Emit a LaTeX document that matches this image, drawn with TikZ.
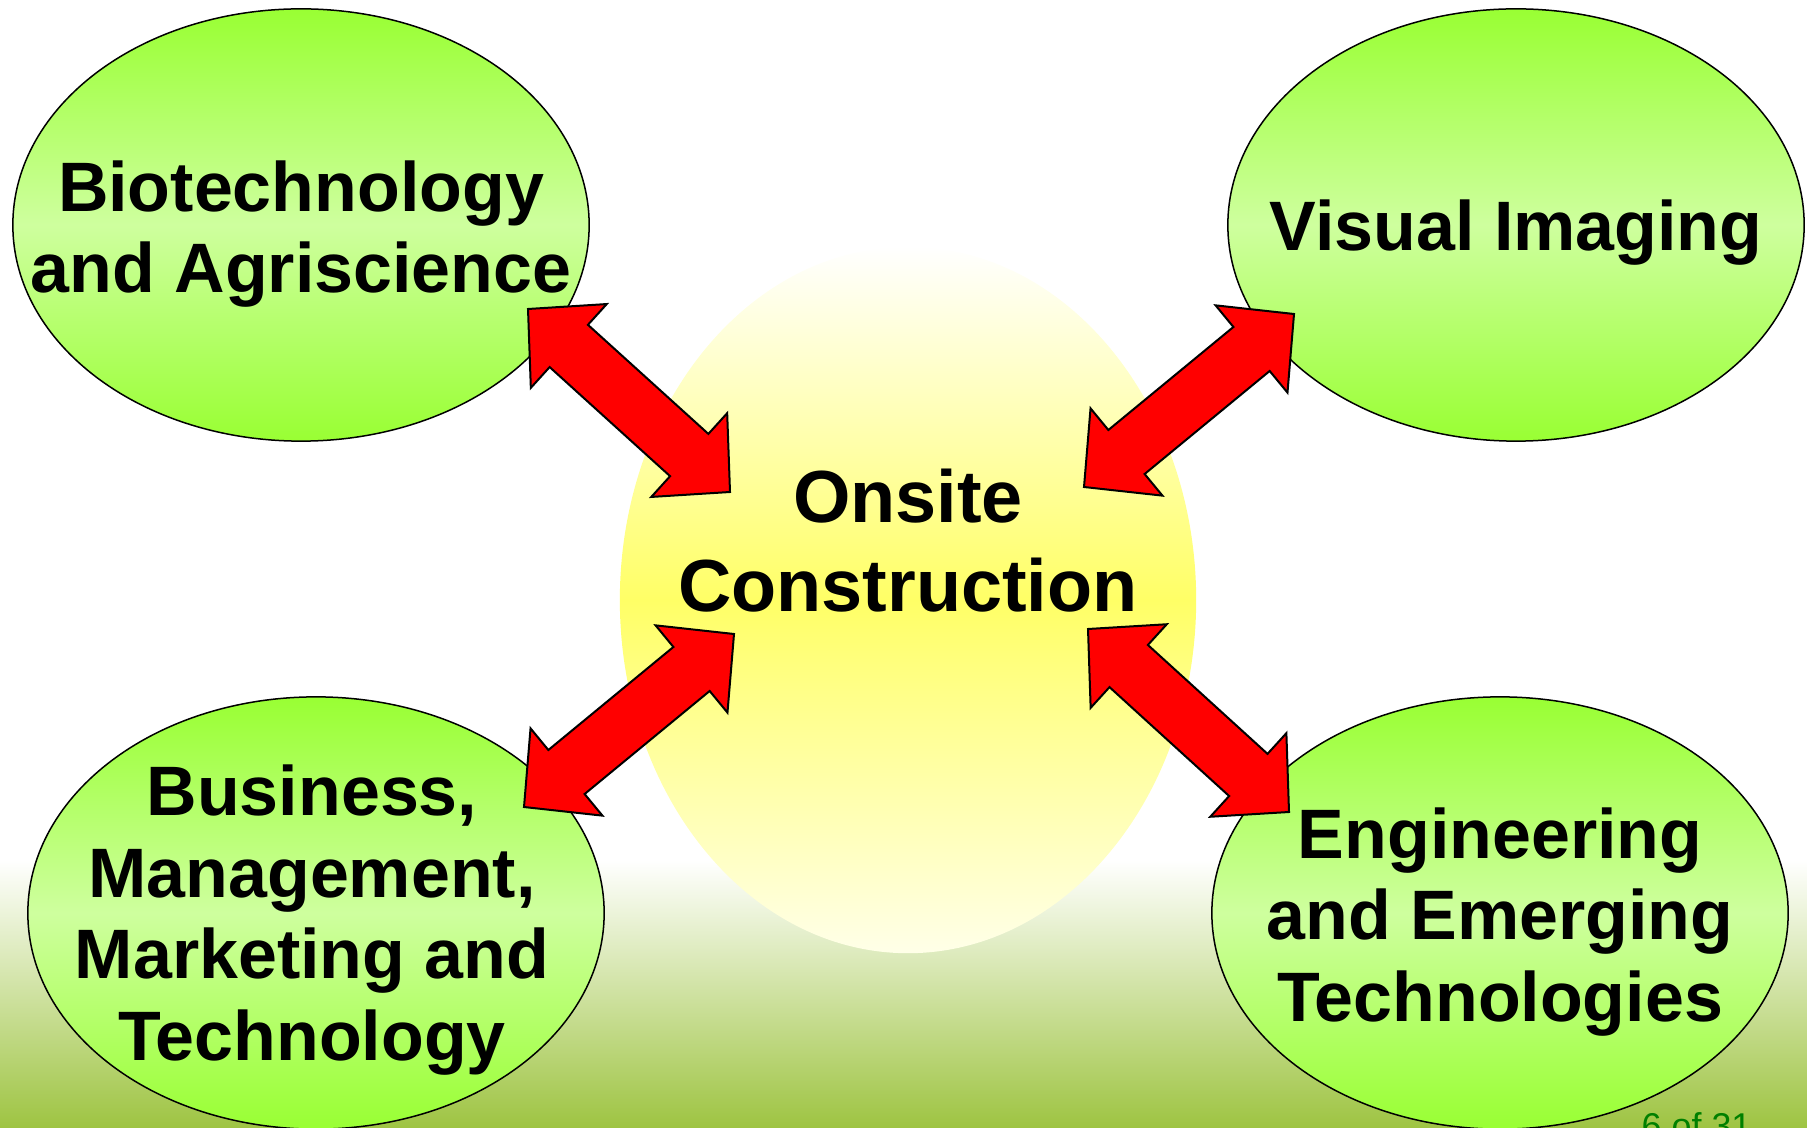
\documentclass[tikz,border=0pt]{standalone}
\usepackage{fontspec}
\setmainfont{Liberation Sans}
\usetikzlibrary{shapes.geometric,calc}

\definecolor{leafgreen}{RGB}{153,255,51}
\definecolor{palegreen}{RGB}{206,255,158}
\definecolor{sunyellow}{RGB}{255,255,102}
\definecolor{grassgreen}{RGB}{158,196,66}
\definecolor{pagegreen}{RGB}{0,128,0}

\tikzset{
  topic/.style={ellipse, draw=black, line width=0.015cm, minimum width=5.76cm, minimum height=4.32cm, inner sep=0pt, top color=leafgreen, bottom color=leafgreen, middle color=palegreen},
  hub/.style={ellipse, minimum width=5.76cm, minimum height=7.06cm, inner sep=0pt, top color=white, bottom color=white!85!sunyellow, middle color=sunyellow},
  topictext/.style={align=center, font=\fontsize{19.9}{23.2}\selectfont\bfseries, inner sep=0pt},
  hubtext/.style={align=center, font=\fontsize{21}{25.3}\selectfont\bfseries, inner sep=0pt},
  dblarrow/.style={fill=red, draw=black, line width=0.02cm, line join=miter}
}

% block arrow with a head at both ends
\newcommand{\blockarrow}[2]{%
  \draw[dblarrow] (#1)
    -- ($(#1)!0.55cm!(#2)!0.565cm!90:(#2)$)
    -- ($(#1)!0.55cm!(#2)!0.285cm!90:(#2)$)
    -- ($(#2)!0.55cm!(#1)!0.285cm!-90:(#1)$)
    -- ($(#2)!0.55cm!(#1)!0.565cm!-90:(#1)$)
    -- (#2)
    -- ($(#2)!0.55cm!(#1)!0.565cm!90:(#1)$)
    -- ($(#2)!0.55cm!(#1)!0.285cm!90:(#1)$)
    -- ($(#1)!0.55cm!(#2)!0.285cm!-90:(#2)$)
    -- ($(#1)!0.55cm!(#2)!0.565cm!-90:(#2)$)
    -- cycle;}

\begin{document}
\begin{tikzpicture}[x=0.01cm, y=-0.01cm]
\useasboundingbox (0,0) rectangle (1807,1128);
\clip (0,0) rectangle (1807,1128);
\fill[top color=white, bottom color=grassgreen] (0,860) rectangle (1807,1128);

\node[hub] (ons) at (908,600) {};
\node[topic] (bio) at (301,225) {};
\node[topic] (vis) at (1516,225) {};
\node[topic] (bus) at (316,913) {};
\node[topic] (eng) at (1500,913) {};

% arrow tips
\coordinate (bioA) at (528,309);
\coordinate (onsA) at (730,492);
\coordinate (visA) at (1294,314);
\coordinate (onsB) at (1084,487);
\coordinate (busA) at (524,807);
\coordinate (onsC) at (734,634);
\coordinate (engA) at (1289,812);
\coordinate (onsD) at (1088,629);
\blockarrow{bioA}{onsA}
\blockarrow{visA}{onsB}
\blockarrow{busA}{onsC}
\blockarrow{engA}{onsD}

\node[hubtext] (onstxt) at (908,541) {Onsite\\Construction};
\node[topictext] (biotxt) at (301,234) {Biotechnology\\and Agriscience};
\node[topictext] (vistxt) at (1516,233) {Visual Imaging};
\node[topictext] (bustxt) at (312,920) {Business,\\Management,\\Marketing and\\Technology};
\node[topictext] (engtxt) at (1500,922) {Engineering\\and Emerging\\Technologies};

\node[anchor=base west, text=pagegreen, font=\fontsize{10.2}{12}\selectfont, inner sep=0pt] (pagenum) at (1641,1138) {6 of 31};
\end{tikzpicture}
\end{document}
